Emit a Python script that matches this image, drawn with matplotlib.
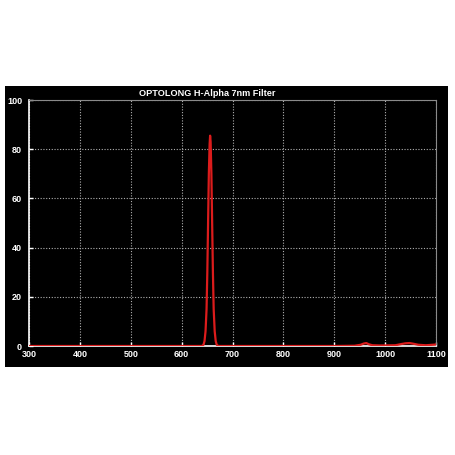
import matplotlib
matplotlib.use("Agg")
import matplotlib.pyplot as plt

wavelength = [300, 600, 640, 643, 645, 647, 649, 650.5, 652, 653.5, 655, 656, 657, 658.5, 660, 661.5, 663, 665, 667, 669, 672, 700,
              900, 940, 952, 958, 963, 968, 975, 990, 1020, 1032, 1040, 1048, 1056, 1065, 1080, 1100]
transmission = [0, 0, 0, 0.5, 2, 6, 15, 30, 50, 70, 82, 85.5, 83, 70, 50, 30, 15, 6, 2, 0.5, 0, 0,
                0, 0.1, 0.5, 1.0, 1.2, 0.7, 0.3, 0.2, 0.3, 0.8, 1.1, 1.2, 0.9, 0.5, 0.3, 0.6]
x_ticks = [300, 400, 500, 600, 700, 800, 900, 1000, 1100]
y_ticks = [0, 20, 40, 60, 80, 100]
title = "OPTOLONG H-Alpha 7nm Filter"

plt.rcParams["font.family"] = ["Liberation Sans", "DejaVu Sans"]

W = H = 455
fig = plt.figure(figsize=(4.55, 4.55), dpi=100)
fig.patch.set_facecolor("white")

bg = fig.add_axes([5 / W, 1 - 367 / H, (448 - 5) / W, (367 - 86) / H], zorder=-1)
bg.set_facecolor("black")
bg.set_xticks([])
bg.set_yticks([])
for s in bg.spines.values():
    s.set_visible(False)

ax = fig.add_axes([29 / W, 1 - 346 / H, (436 - 29) / W, (346 - 100) / H], zorder=1)
ax.set_facecolor("black")
ax.plot(wavelength, transmission, color="#dc1c1c", lw=1.6, zorder=3)
ax.set_xlim(300, 1100)
ax.set_ylim(0, 100)
ax.set_xticks(x_ticks)
ax.set_yticks(y_ticks)
ax.grid(True, color="#b0b0b0", linestyle=(0, (1, 1.5)), linewidth=0.8)
for s in ["left", "bottom"]:
    ax.spines[s].set_color("white")
    ax.spines[s].set_linewidth(1.2)
for s in ["top", "right"]:
    ax.spines[s].set_color("#8a8a8a")
    ax.spines[s].set_linewidth(0.8)
ax.tick_params(axis="both", direction="in", colors="white", length=3, width=1,
               labelsize=6.5)
ax.tick_params(axis="x", pad=3)
ax.tick_params(axis="y", pad=5)
for lab in ax.get_xticklabels() + ax.get_yticklabels():
    lab.set_fontweight("bold")
    lab.set_color("white")

fig.text(207 / W, 1 - 93 / H, title, color="white", fontsize=6.6, fontweight="bold",
         ha="center", va="center")

fig.savefig("out.png", dpi=100, facecolor="white")
